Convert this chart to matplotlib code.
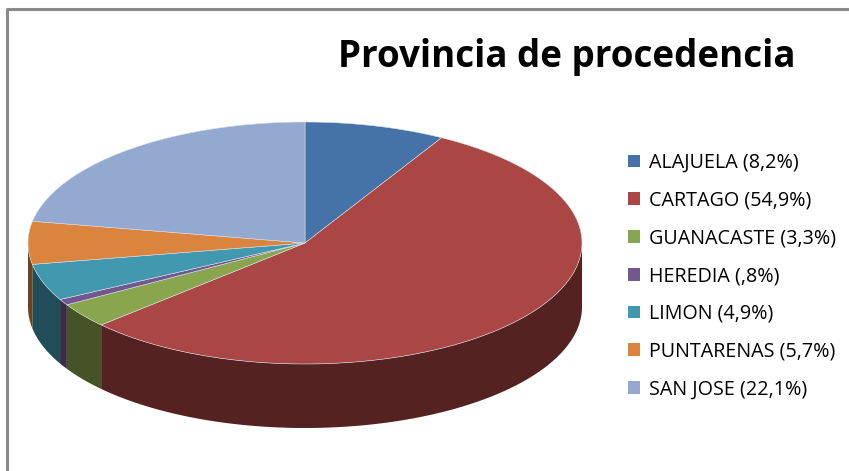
import numpy as np
import matplotlib.pyplot as plt
from matplotlib.patches import Patch

# datos
provincias = ['ALAJUELA', 'CARTAGO', 'GUANACASTE', 'HEREDIA', 'LIMON', 'PUNTARENAS', 'SAN JOSE']
porcentajes = [8.2, 54.9, 3.3, 0.8, 4.9, 5.7, 22.1]
col_sup = ['#4572A7', '#AA4744', '#89A54E', '#71588F', '#4198AF', '#DB843D', '#93A9CF']
col_lado = ['#23395A', '#552222', '#455327', '#3A2D4A', '#214D59', '#6E421F', '#4A5568']

def etiqueta(n, v):
    s = ('%.1f' % v).replace('.', ',')
    if s.startswith('0'):
        s = s[1:]
    return '%s (%s%%)' % (n, s)

etiquetas = [etiqueta(n, v) for n, v in zip(provincias, porcentajes)]

plt.rcParams['font.family'] = ['Open Sans', 'DejaVu Sans']

W, H = 849, 471
f = plt.figure(figsize=(W / 100, H / 100), dpi=100)
ax = f.add_axes([0, 0, 1, 1])
ax.set_xlim(0, W)
ax.set_ylim(H, 0)
ax.axis('off')

# borde del area del grafico
ax.plot([7, 7, W + 5], [H + 5, 9, 9], color='#8a8a8a', lw=2.2, solid_capstyle='butt')

# geometria del pastel 3D
cx, cy, rx, ry, prof = 305, 243, 277, 121, 64
fr = np.array(porcentajes) / np.sum(porcentajes)
lim = 90 - 360 * np.concatenate([[0], np.cumsum(fr)])

def arco(t0, t1, n=120):
    t = np.radians(np.linspace(t0, t1, n))
    return cx + rx * np.cos(t), cy - ry * np.sin(t)

# caras laterales (solo la mitad frontal es visible)
for i in range(len(fr)):
    a0, a1 = lim[i], lim[i + 1]
    hi, lo = min(a0, 0), max(a1, -180)
    if hi > lo:
        xs, ys = arco(hi, lo)
        px = np.concatenate([xs, xs[::-1]])
        py = np.concatenate([ys, ys[::-1] + prof])
        ax.fill(px, py, color=col_lado[i], lw=0)

# caras superiores
for i in range(len(fr)):
    xs, ys = arco(lim[i], lim[i + 1])
    ax.fill(np.r_[cx, xs], np.r_[cy, ys], facecolor=col_sup[i],
            edgecolor='#d8dde8', lw=0.4)

ax.text(796, 57, 'Provincia de procedencia', fontsize=26.5, fontweight='bold',
        ha='right', va='center', color='black')

h = [Patch(facecolor=c, edgecolor='none') for c in col_sup]
ax.legend(h, etiquetas, loc='upper left', bbox_to_anchor=(620 / W, 1 - 145 / H),
          frameon=False, fontsize=14.2, handlelength=0.62, handleheight=0.62,
          handletextpad=0.45, labelspacing=0.9, borderaxespad=0)

f.savefig('out.png', dpi=100)
